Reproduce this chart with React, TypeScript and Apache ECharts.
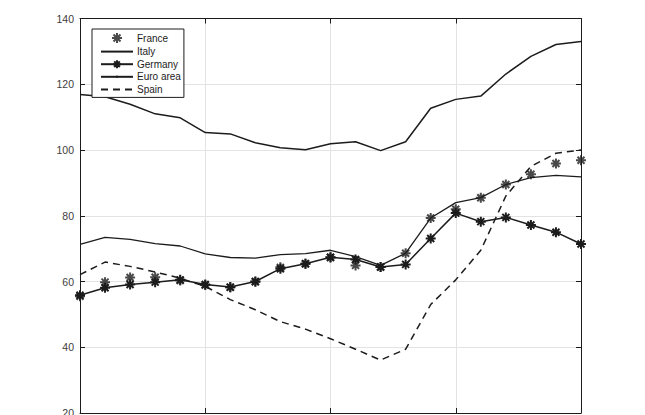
import React, { useEffect, useRef } from "react";
import * as echarts from "echarts";

const years = [1995, 1996, 1997, 1998, 1999, 2000, 2001, 2002, 2003, 2004, 2005, 2006, 2007, 2008, 2009, 2010, 2011, 2012, 2013, 2014, 2015];
const france = [55.5, 59.8, 61.2, 61.3, 60.3, 58.9, 58.2, 59.9, 64.3, 65.4, 67.3, 64.9, 64.4, 68.6, 79.3, 82.0, 85.5, 89.5, 92.6, 95.9, 96.9];
const italy = [116.9, 116.2, 113.9, 111.0, 109.8, 105.3, 104.9, 102.2, 100.7, 100.1, 101.9, 102.5, 99.8, 102.5, 112.7, 115.4, 116.4, 123.1, 128.5, 132.1, 133.0];
const germany = [55.8, 58.1, 59.1, 59.8, 60.5, 59.1, 58.3, 60.0, 63.9, 65.4, 67.4, 66.7, 64.4, 65.2, 73.1, 80.8, 78.2, 79.5, 77.2, 75.0, 71.4];
const euroArea = [71.3, 73.4, 72.8, 71.5, 70.8, 68.4, 67.3, 67.1, 68.2, 68.5, 69.5, 67.6, 64.9, 68.6, 79.3, 84.0, 85.5, 89.5, 91.6, 92.3, 91.8];
const spain = [62.1, 65.9, 64.6, 62.9, 61.0, 58.5, 54.5, 51.4, 47.8, 45.5, 42.6, 39.4, 36.1, 39.4, 53.0, 60.5, 69.5, 86.0, 95.0, 99.0, 100.0];
const yTicks = [20, 40, 60, 80, 100, 120, 140];

const ASTERISK = "path://M0 -10 L0 10 M-10 0 L10 0 M-7 -7 L7 7 M-7 7 L7 -7";
const SMALL_TICK = "path://M-10 -10 M10 10 M0 -2.5 L0 2.5";
const INK = "#1c1c1c";

const pair = (vals: number[]) => years.map((y, i) => [y, vals[i]]);

export default function App() {
  const ref = useRef<HTMLDivElement>(null);
  useEffect(() => {
    if (!ref.current) return;
    const chart = echarts.init(ref.current, undefined, { renderer: "svg" });
    const lineStyle = { color: INK, width: 1.5 };
    chart.setOption({
      animation: false,
      backgroundColor: "#ffffff",
      textStyle: { fontFamily: "Liberation Sans, Arial, sans-serif" },
      grid: { left: 80, right: 64, top: 18.5, bottom: 2, containLabel: false, outerBoundsMode: "none" },
      legend: {
        left: 92,
        top: 29,
        orient: "vertical",
        itemWidth: 32,
        itemHeight: 10,
        itemGap: 2.6,
        padding: [3, 3, 3, 8],
        backgroundColor: "#ffffff",
        borderColor: INK,
        borderWidth: 1,
        borderRadius: 0,
        textStyle: { fontSize: 10, color: INK, padding: [0, 0, 0, -1] },
        data: ["France", "Italy", "Germany", "Euro area", "Spain"],
      },
      xAxis: [
        {
          type: "value",
          min: 1995,
          max: 2015,
          interval: 5,
          position: "bottom",
          axisLine: { show: true, lineStyle: { color: INK, width: 1 } },
          axisTick: { show: true, inside: true, length: 5, lineStyle: { color: INK } },
          axisLabel: { show: false },
          splitLine: { show: true, lineStyle: { color: "#e3e3e3", width: 1 } },
        },
        {
          type: "value",
          min: 1995,
          max: 2015,
          interval: 5,
          position: "top",
          axisLine: { show: true, lineStyle: { color: INK, width: 1 } },
          axisTick: { show: true, inside: true, length: 5, lineStyle: { color: INK } },
          axisLabel: { show: false },
          splitLine: { show: false },
        },
      ],
      yAxis: [
        {
          type: "value",
          min: 20,
          max: 140,
          interval: 20,
          position: "left",
          axisLine: { show: true, lineStyle: { color: INK, width: 1 } },
          axisTick: { show: true, inside: true, length: 5, lineStyle: { color: INK } },
          axisLabel: {
            color: "#404040",
            fontSize: 10.5,
            margin: 6,
            formatter: (v: number) => (yTicks.includes(v) ? String(v) : ""),
          },
          splitLine: { show: true, lineStyle: { color: "#e3e3e3", width: 1 } },
        },
        {
          type: "value",
          min: 20,
          max: 140,
          interval: 20,
          position: "right",
          axisLine: { show: true, lineStyle: { color: INK, width: 1 } },
          axisTick: { show: true, inside: true, length: 5, lineStyle: { color: INK } },
          axisLabel: { show: false },
          splitLine: { show: false },
        },
      ],
      series: [
        {
          name: "France",
          type: "scatter",
          data: pair(france),
          symbol: ASTERISK,
          symbolSize: 10,
          itemStyle: { color: INK, borderColor: INK, borderWidth: 2 },
          z: 5,
        },
        {
          name: "Italy",
          type: "line",
          data: pair(italy),
          symbol: "none",
          lineStyle,
          itemStyle: { color: INK, opacity: 0 },
        },
        {
          name: "Germany",
          type: "line",
          data: pair(germany),
          symbol: ASTERISK,
          symbolSize: 10,
          showAllSymbol: true,
          lineStyle,
          itemStyle: { color: INK, borderColor: INK, borderWidth: 2 },
        },
        {
          name: "Euro area",
          type: "line",
          data: pair(euroArea),
          symbol: SMALL_TICK,
          showSymbol: false,
          lineStyle: { color: INK, width: 1.3 },
          itemStyle: { color: INK, borderColor: INK, borderWidth: 1 },
        },
        {
          name: "Spain",
          type: "line",
          data: pair(spain),
          symbol: "none",
          lineStyle: { color: INK, width: 1.5, type: [7, 5] },
          itemStyle: { color: INK, opacity: 0 },
        },
      ],
    });
    return () => chart.dispose();
  }, []);
  return (
    <div
      ref={ref}
      style={{ position: "fixed", left: 0, top: 0, width: 645, height: 415, background: "#fff" }}
    />
  );
}
